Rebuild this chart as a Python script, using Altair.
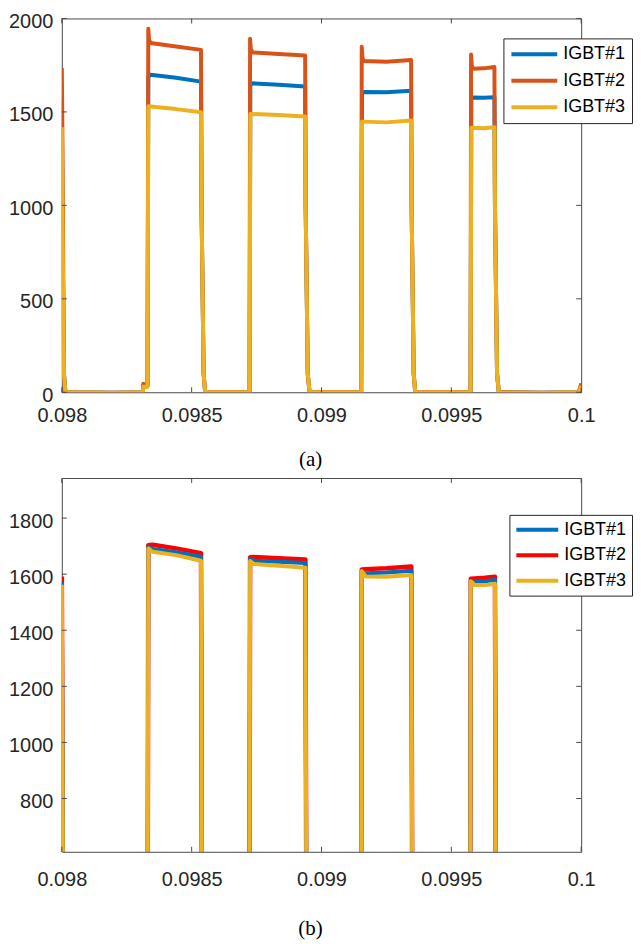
import altair as alt
import pandas as pd

SERIES = ["IGBT#1", "IGBT#2", "IGBT#3"]
COLORS_A = ["#0072BD", "#D95319", "#EDB120"]
COLORS_B = ["#0072BD", "#FF0000", "#EDB120"]
X_TICKS = [0.098, 0.0985, 0.099, 0.0995, 0.1]
YA_TICKS = [0, 500, 1000, 1500, 2000]
YB_TICKS = [800, 1000, 1200, 1400, 1600, 1800]
YA_DOMAIN = [0, 2000]
YB_DOMAIN = [610, 1943]

# ---------- panel (a) ----------
A1_T = [0.098000, 0.098002, 0.098008, 0.098014, 0.098200, 0.098312, 0.098314, 0.098330,
        0.098333, 0.098342, 0.098440, 0.098536, 0.098538, 0.098546, 0.098552,
        0.098723, 0.098726, 0.098735, 0.098835, 0.098937, 0.098939, 0.098947, 0.098954,
        0.099153, 0.099156, 0.099165, 0.099250, 0.099345, 0.099347, 0.099355, 0.099361,
        0.099574, 0.099577, 0.099585, 0.099625, 0.099666, 0.099668, 0.099676, 0.099683,
        0.099850, 0.099990, 0.099996, 0.100000]
A1_I = [1578, 1000, 100, 0, -2, 0, 38, 35,
        1688, 1699, 1683, 1662, 1000, 100, 0,
        0, 1645, 1653, 1645, 1636, 1000, 100, 0,
        0, 1600, 1607, 1605, 1613, 1000, 100, 0,
        0, 1570, 1577, 1576, 1578, 1000, 100, 0,
        -2, 0, 18, 42]

A2_T = [0.098000, 0.098002, 0.098008, 0.098014, 0.098200, 0.098312, 0.098314, 0.098330,
        0.098333, 0.098336, 0.098342, 0.098440, 0.098536, 0.098538, 0.098546, 0.098552,
        0.098723, 0.098725, 0.098728, 0.098735, 0.098835, 0.098937, 0.098939, 0.098947, 0.098954,
        0.099153, 0.099155, 0.099158, 0.099165, 0.099250, 0.099345, 0.099347, 0.099355, 0.099361,
        0.099574, 0.099576, 0.099579, 0.099585, 0.099625, 0.099666, 0.099668, 0.099676, 0.099683,
        0.099850, 0.099990, 0.099996, 0.100000]
A2_I = [1735, 1420, 100, 0, -2, 0, 45, 38,
        1945, 1885, 1869, 1850, 1832, 1000, 100, 0,
        0, 1892, 1835, 1818, 1810, 1802, 1000, 100, 0,
        0, 1848, 1785, 1772, 1768, 1778, 1000, 100, 0,
        0, 1807, 1745, 1731, 1733, 1740, 1000, 100, 0,
        -2, 0, 22, 48]

A3_T = [0.098000, 0.098002, 0.098008, 0.098014, 0.098200, 0.098312, 0.098314, 0.098330,
        0.098333, 0.098440, 0.098536, 0.098538, 0.098546, 0.098552,
        0.098723, 0.098726, 0.098835, 0.098937, 0.098939, 0.098947, 0.098954,
        0.099153, 0.099156, 0.099250, 0.099345, 0.099347, 0.099355, 0.099361,
        0.099574, 0.099577, 0.099625, 0.099666, 0.099668, 0.099676, 0.099683,
        0.099850, 0.099990, 0.099996, 0.100000]
A3_I = [1418, 1000, 100, 0, -3, 0, 30, 28,
        1530, 1515, 1498, 1000, 100, 0,
        0, 1489, 1483, 1475, 1000, 100, 0,
        0, 1448, 1444, 1454, 1000, 100, 0,
        0, 1415, 1413, 1418, 1000, 100, 0,
        -3, 0, 15, 35]

# ---------- panel (b) ----------
B_T = [0.098000, 0.098004, 0.098014,
       0.098330, 0.098333, 0.098350, 0.098440, 0.098536, 0.098539, 0.098552,
       0.098722, 0.098725, 0.098740, 0.098835, 0.098938, 0.098941, 0.098954,
       0.099152, 0.099155, 0.099170, 0.099250, 0.099346, 0.099349, 0.099362,
       0.099572, 0.099575, 0.099590, 0.099630, 0.099668, 0.099671, 0.099684,
       0.100000]
B1_I = [1572, 600, 0,
        0, 1697, 1690, 1678, 1662, 600, 0,
        0, 1654, 1648, 1644, 1640, 600, 0,
        0, 1608, 1603, 1606, 1612, 600, 0,
        0, 1576, 1572, 1575, 1580, 600, 0,
        0]
B2_I = [1592, 600, 0,
        0, 1703, 1705, 1692, 1675, 600, 0,
        0, 1660, 1661, 1657, 1652, 600, 0,
        0, 1617, 1618, 1621, 1627, 600, 0,
        0, 1584, 1585, 1587, 1591, 600, 0,
        0]
B3_I = [1562, 600, 0,
        0, 1692, 1680, 1668, 1648, 600, 0,
        0, 1647, 1636, 1630, 1623, 600, 0,
        0, 1611, 1592, 1591, 1597, 600, 0,
        0, 1575, 1561, 1561, 1566, 600, 0,
        0]

W = 521
AXIS_COLOR = "#262626"
BOX_COLOR = "#4a4a4a"
SANS = "Liberation Sans"
SERIF = "Liberation Serif"


def panel(series, order, widths, colors, ydomain, yticks, H, lx, ly, lpad, lrow, lsym,
          xpad, caption, toff):
    xs = alt.Scale(domain=[0.098, 0.1], nice=False, zero=False)
    ys = alt.Scale(domain=ydomain, nice=False, zero=False)
    xaxis = alt.Axis(values=X_TICKS, format="~g", title=None, grid=False, domain=False,
                     tickSize=0, labelPadding=xpad, labelFont=SANS, labelFontSize=20,
                     labelColor=AXIS_COLOR, labelFlush=False, labelOverlap=False)
    yaxis = alt.Axis(values=yticks, format="d", title=None, grid=False, domain=False,
                     tickSize=0, labelPadding=9, labelOffset=3, labelFont=SANS,
                     labelFontSize=20, labelColor=AXIS_COLOR, labelFlush=False,
                     labelOverlap=False)
    legend = alt.Legend(orient="none", legendX=lx, legendY=ly, title=None, direction="vertical",
                        symbolType="stroke", symbolSize=lsym * lsym, symbolStrokeWidth=4,
                        clipHeight=20, rowPadding=lrow, padding=lpad,
                        strokeColor=AXIS_COLOR, fillColor="white",
                        labelFont=SANS, labelFontSize=18, labelColor="black")
    cscale = alt.Scale(domain=SERIES, range=colors)
    layers = []
    for k in order:
        t, v = series[k]
        df = pd.DataFrame({"t": t, "i": v, "series": SERIES[k]})
        layers.append(
            alt.Chart(df).mark_line(strokeWidth=widths[k], clip=True, strokeJoin="round")
            .encode(x=alt.X("t:Q", scale=xs, axis=xaxis),
                    y=alt.Y("i:Q", scale=ys, axis=yaxis),
                    color=alt.Color("series:N", scale=cscale, legend=legend))
        )
    xt = pd.DataFrame({"t": X_TICKS})
    yt = pd.DataFrame({"i": yticks})
    tick = dict(color=BOX_COLOR, strokeWidth=1)
    layers.append(alt.Chart(xt).mark_rule(**tick).encode(
        x=alt.X("t:Q", scale=xs, axis=xaxis), y=alt.value(H), y2=alt.value(H - 5)))
    layers.append(alt.Chart(xt).mark_rule(**tick).encode(
        x=alt.X("t:Q", scale=xs, axis=xaxis), y=alt.value(0), y2=alt.value(5)))
    layers.append(alt.Chart(yt).mark_rule(**tick).encode(
        y=alt.Y("i:Q", scale=ys, axis=yaxis), x=alt.value(0), x2=alt.value(5)))
    layers.append(alt.Chart(yt).mark_rule(**tick).encode(
        y=alt.Y("i:Q", scale=ys, axis=yaxis), x=alt.value(W), x2=alt.value(W - 5)))
    return alt.layer(*layers).properties(
        width=W, height=H,
        title=alt.TitleParams(caption, orient="bottom", font=SERIF, fontSize=21,
                              fontWeight="normal", color="black", offset=toff, dx=-11),
    )


pa = panel([(A1_T, A1_I), (A2_T, A2_I), (A3_T, A3_I)], [0, 1, 2], [4, 4, 4],
           COLORS_A, YA_DOMAIN, YA_TICKS, 375, 443, 20, 6, 6.5, 46, 13, "(a)", 24)
pb = panel([(B_T, B1_I), (B_T, B2_I), (B_T, B3_I)], [1, 0, 2], [4, 4.5, 4],
           COLORS_B, YB_DOMAIN, YB_TICKS, 375, 449, 37, 5, 5.5, 42, 18, "(b)", 28)

chart = alt.vconcat(pa, pb, spacing=6).resolve_scale(
    x="independent", y="independent", color="independent"
).configure(padding={"top": 1, "left": 0, "right": 0, "bottom": 0}).configure_view(
    stroke=BOX_COLOR, strokeWidth=1)

chart.save("out.html", embed_options={"renderer": "svg", "actions": False})
